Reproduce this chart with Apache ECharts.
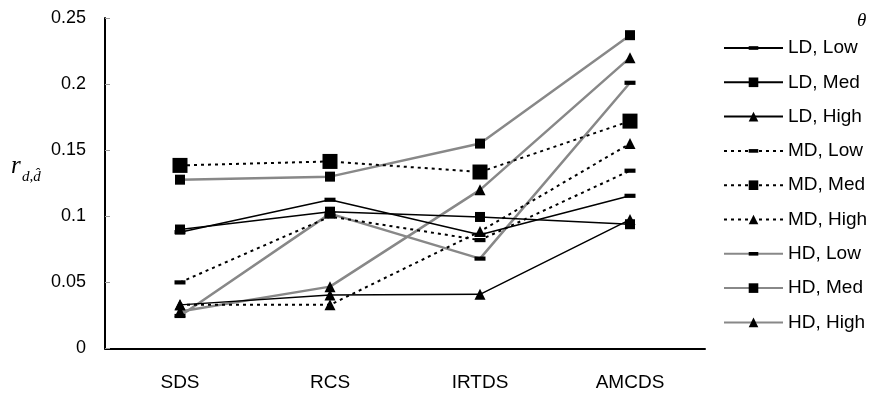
<!DOCTYPE html>
<html>
<head>
<meta charset="utf-8">
<script src="https://cdn.jsdelivr.net/npm/echarts@6/dist/echarts.min.js"></script>
<style>
    html, body {margin: 0; padding: 0; background: #fff;}
    #chart {width: 871px; height: 394px;}
</style>
</head>
<body>
<div id="chart"></div>
<script>
    //categories and values
    const categories = ['SDS', 'RCS', 'IRTDS', 'AMCDS'];
    const yTicks = [0, 0.05, 0.1, 0.15, 0.2, 0.25];

    const ldLow = [0.088, 0.1125, 0.086, 0.1155];
    const ldMed = [0.090, 0.1035, 0.0995, 0.094];
    const ldHigh = [0.033, 0.0405, 0.041, 0.0975];
    const mdLow = [0.050, 0.0998, 0.082, 0.1345];
    const mdMed = [0.1385, 0.1415, 0.1335, 0.172];
    const mdHigh = [0.033, 0.033, 0.0885, 0.155];
    const hdLow = [0.0246, 0.102, 0.068, 0.201];
    const hdMed = [0.1277, 0.130, 0.155, 0.237];
    const hdHigh = [0.028, 0.0468, 0.120, 0.220];

    //square box with a flat bar in the middle, so it stays a dash when stretched square
    const dash = 'path://M0,0M0,3.1L10,3.1L10,6.9L0,6.9ZM10,10';

    //线型：LD实线，MD点线，HD灰线
    const lineTypes = {
        LD: {color: '#000', width: 1.5, type: 'solid'},
        MD: {color: '#000', width: 2, type: [3, 4]},
        HD: {color: '#888', width: 2.5, type: 'solid'}
    };
    const marks = {
        Low: {symbol: dash, size: 11},
        Med: {symbol: 'rect', size: 10},
        High: {symbol: 'triangle', size: 11}
    };

    const rows = [
        ['LD', 'Low', ldLow], ['LD', 'Med', ldMed], ['LD', 'High', ldHigh],
        ['MD', 'Low', mdLow], ['MD', 'Med', mdMed], ['MD', 'High', mdHigh],
        ['HD', 'Low', hdLow], ['HD', 'Med', hdMed], ['HD', 'High', hdHigh]
    ];

    let series = [];
    for (let i = 0; i < rows.length; i++) {
        let [d, lvl, vals] = rows[i];
        let size = marks[lvl].size;
        if (d === 'MD' && lvl === 'Med') size = 15;
        series.push({
            type: 'line',
            name: d + ', ' + lvl,
            data: vals,
            symbol: marks[lvl].symbol,
            symbolSize: size,
            showAllSymbol: true,
            lineStyle: lineTypes[d],
            itemStyle: {color: '#000'},
            emphasis: {disabled: true},
            animation: false,
            z: d === 'HD' ? 1 : 2
        });
    }

    let chart = echarts.init(document.getElementById('chart'));
    chart.setOption({
        backgroundColor: '#fff',
        textStyle: {fontFamily: 'Liberation Sans'},
        grid: {left: 105, right: 166, top: 18, bottom: 45.5},
        legend: {
            orient: 'vertical',
            left: 723,
            top: 38.5,
            padding: 0,
            itemWidth: 59,
            itemHeight: 12,
            itemGap: 15.3,
            textStyle: {fontSize: 19, color: '#000', fontFamily: 'Liberation Sans'},
            data: series.map(s => s.name)
        },
        graphic: [
            {type: 'text', left: 857, top: 11, style: {text: 'θ', font: 'italic 19px "Liberation Serif"', fill: '#000'}},
            {type: 'text', left: 11, top: 154, style: {text: 'r', font: 'italic 25px "Liberation Serif"', fill: '#000'}},
            {type: 'text', left: 22, top: 170, style: {text: 'd,d\u0302', font: 'italic 15px "Liberation Serif"', fill: '#000'}}
        ],
        xAxis: {
            type: 'category',
            data: categories,
            boundaryGap: true,
            axisLine: {lineStyle: {color: '#000', width: 2}},
            axisTick: {show: false},
            axisLabel: {color: '#000', fontSize: 19, margin: 25}
        },
        yAxis: {
            type: 'value',
            min: yTicks[0],
            max: yTicks[yTicks.length - 1],
            interval: 0.05,
            splitLine: {show: false},
            axisLine: {show: true, lineStyle: {color: '#000', width: 2}},
            axisTick: {show: true, inside: true, length: 5, lineStyle: {color: '#999'}},
            axisLabel: {color: '#000', fontSize: 18, margin: 19, formatter: v => String(Math.round(v * 100) / 100)}
        },
        series: series
    });
</script>
</body>
</html>
